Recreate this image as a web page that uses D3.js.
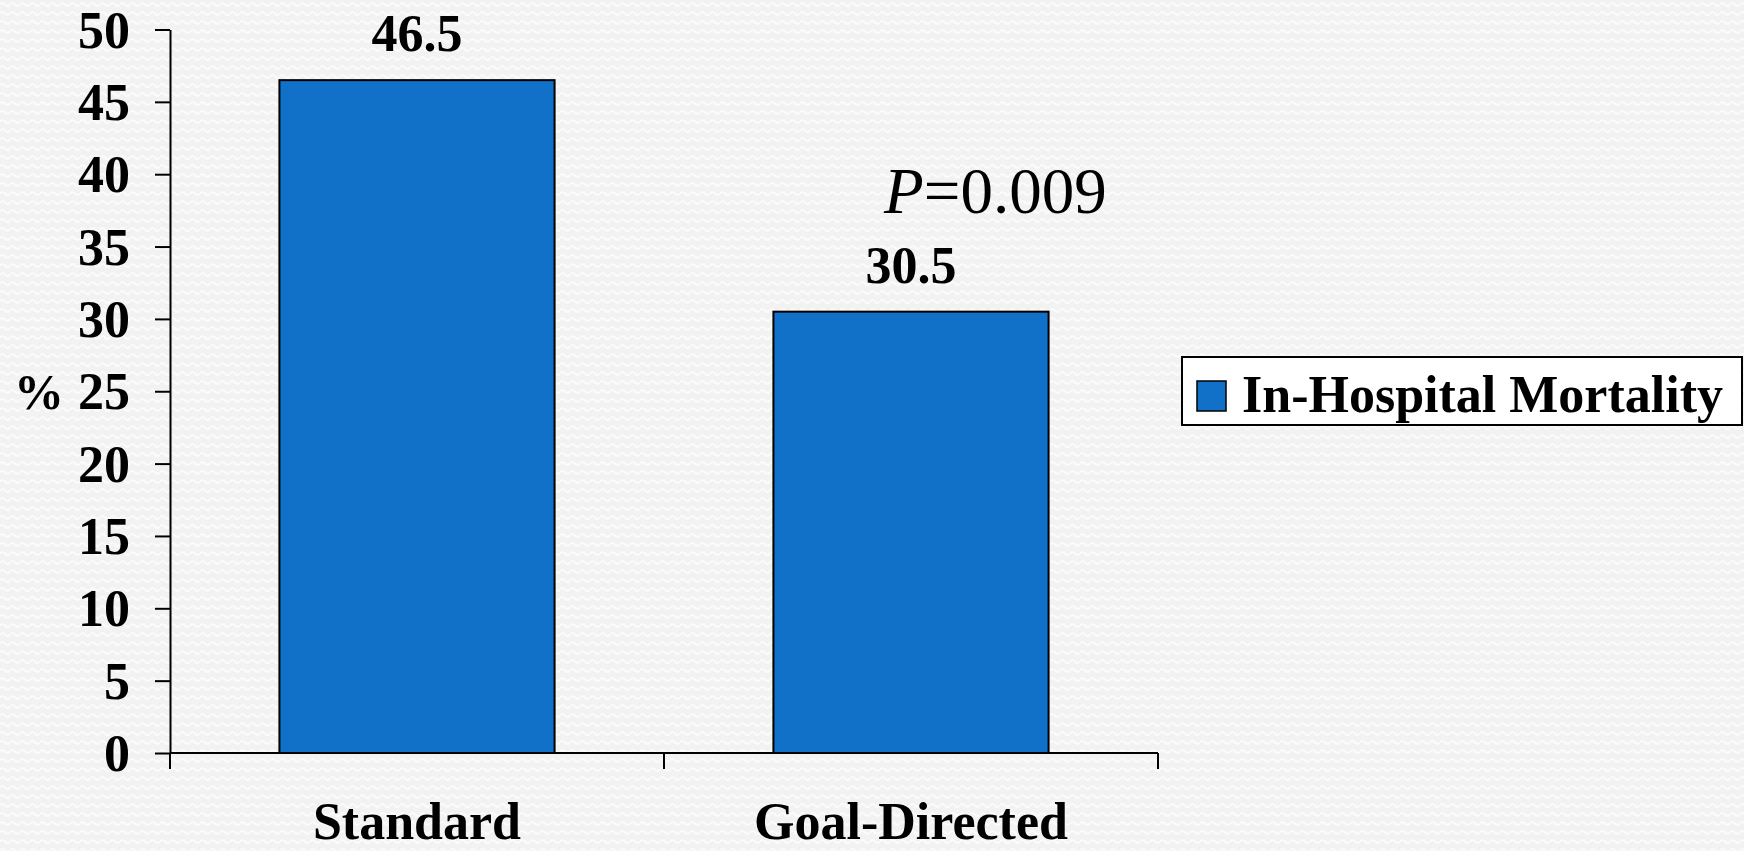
<!DOCTYPE html>
<html>
<head>
<meta charset="utf-8">
<script src="https://cdn.jsdelivr.net/npm/d3@7"></script>
<style>
  html, body { margin: 0; padding: 0; background: #f3f3f3; }
  svg { display: block; }
  text { font-family: "Liberation Serif", "Times New Roman", serif; fill: #000; }
</style>
</head>
<body>
<svg id="chart" width="1744" height="851"></svg>
<script>
// In-hospital mortality (%) by treatment arm
const categories = ["Standard", "Goal-Directed"];
const mortality = [46.5, 30.5];
const yTicks = [0, 5, 10, 15, 20, 25, 30, 35, 40, 45, 50];
const seriesName = "In-Hospital Mortality";
const pValueLabel = "0.009";

const W = 1744, H = 851;
const plot = { left: 170, right: 1158, top: 29.5, bottom: 753 };
const barColor = "#1170c8";

const svg = d3.select("#chart");

// soft wavy paper background
const defs = svg.append("defs");
const pat = defs.append("pattern")
  .attr("id", "paper").attr("patternUnits", "userSpaceOnUse")
  .attr("width", 10).attr("height", 9);
pat.append("rect").attr("width", 10).attr("height", 9).attr("fill", "#f2f2f2");
pat.append("path")
  .attr("d", "M0,4.5 Q2.5,1.5 5,4.5 T10,4.5")
  .attr("fill", "none").attr("stroke", "#fbfbfb").attr("stroke-width", 2.2);
svg.append("rect").attr("width", W).attr("height", H).attr("fill", "url(#paper)");

const x = d3.scaleBand()
  .domain(categories)
  .range([plot.left, plot.right])
  .paddingInner(0.443)
  .paddingOuter(0.2215);

const y = d3.scaleLinear().domain([0, 50]).range([plot.bottom, plot.top]);

const rows = categories.map((c, i) => ({ c, v: mortality[i] }));

// bars
svg.append("g").selectAll("rect")
  .data(rows)
  .join("rect")
  .attr("x", d => x(d.c))
  .attr("y", d => y(d.v))
  .attr("width", x.bandwidth())
  .attr("height", d => y(0) - y(d.v))
  .attr("fill", barColor)
  .attr("stroke", "#000")
  .attr("stroke-width", 2);

// value labels
svg.append("g").selectAll("text")
  .data(rows)
  .join("text")
  .attr("x", d => x(d.c) + x.bandwidth() / 2)
  .attr("y", d => y(d.v) - 29)
  .attr("text-anchor", "middle")
  .attr("font-weight", "bold")
  .attr("font-size", 52)
  .text(d => d.v.toFixed(1));

// y axis
const yAxis = svg.append("g")
  .attr("transform", `translate(${plot.left},0)`)
  .call(d3.axisLeft(y).tickValues(yTicks).tickSize(15).tickPadding(25).tickSizeOuter(0));
yAxis.select(".domain").attr("stroke", "#000").attr("stroke-width", 2);
yAxis.selectAll(".tick line").attr("stroke", "#000").attr("stroke-width", 2);
yAxis.selectAll(".tick text")
  .attr("font-family", "Liberation Serif, Times New Roman, serif")
  .attr("font-weight", "bold").attr("font-size", 52).attr("fill", "#000")
  .attr("dy", "0.34em");

// x axis: baseline plus ticks on the category boundaries
const xg = svg.append("g");
xg.append("line")
  .attr("x1", plot.left).attr("x2", plot.right)
  .attr("y1", y(0)).attr("y2", y(0))
  .attr("stroke", "#000").attr("stroke-width", 2);
const edges = [plot.left, ...categories.map(c => x(c) + x.bandwidth() / 2 + x.step() / 2)];
xg.selectAll("line.tk").data(edges).join("line").attr("class", "tk")
  .attr("x1", d => d).attr("x2", d => d)
  .attr("y1", y(0)).attr("y2", y(0) + 16)
  .attr("stroke", "#000").attr("stroke-width", 2);
xg.selectAll("text").data(categories).join("text")
  .attr("x", d => x(d) + x.bandwidth() / 2)
  .attr("y", 839)
  .attr("text-anchor", "middle")
  .attr("font-weight", "bold")
  .attr("font-size", 52)
  .text(d => d);

// y axis unit
svg.append("text")
  .attr("x", 39).attr("y", y(25) + 18)
  .attr("text-anchor", "middle")
  .attr("font-weight", "bold").attr("font-size", 50)
  .text("%");

// significance annotation
const pText = svg.append("text")
  .attr("x", 884).attr("y", 213)
  .attr("font-size", 65);
pText.append("tspan").attr("font-style", "italic").text("P");
pText.append("tspan").text("=" + pValueLabel);

// legend
const lg = svg.append("g");
lg.append("rect")
  .attr("x", 1182).attr("y", 357).attr("width", 560).attr("height", 68)
  .attr("fill", "#fff").attr("stroke", "#000").attr("stroke-width", 2);
lg.append("rect")
  .attr("x", 1197).attr("y", 381).attr("width", 29).attr("height", 30)
  .attr("fill", barColor).attr("stroke", "#000").attr("stroke-width", 1.5);
lg.append("text")
  .attr("x", 1242).attr("y", 412)
  .attr("font-weight", "bold").attr("font-size", 52)
  .text(seriesName);
</script>
</body>
</html>
